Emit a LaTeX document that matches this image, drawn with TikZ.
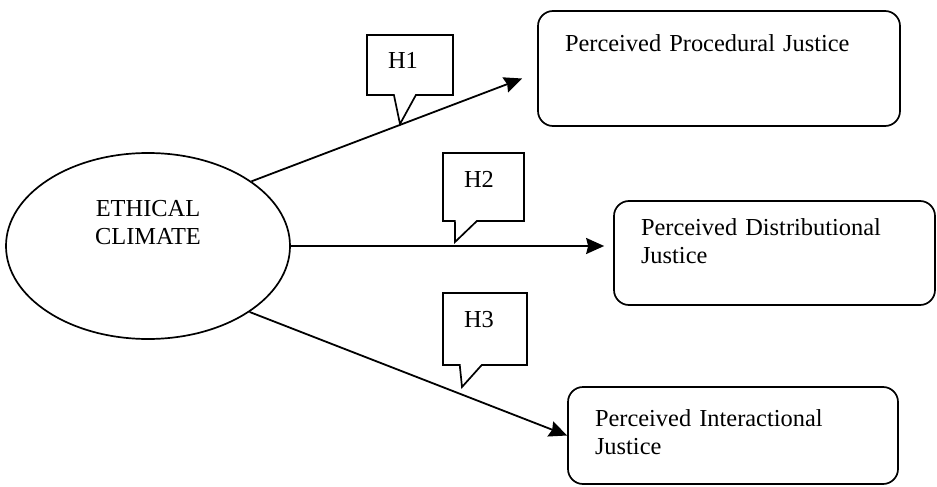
\documentclass[tikz,border=0pt]{standalone}
\usepackage{fontspec}
\setmainfont{Liberation Serif}
\usetikzlibrary{arrows.meta,calc,shapes.geometric,shapes.callouts}
\tikzstyle{climate}=[
  draw=black,
  ellipse,
  font={\fontsize{24.4}{28.5}\selectfont},
  inner sep=0pt,
  line width=1.7pt,
  minimum width=284pt,
  minimum height=186pt,
  align=center,
  text width=150pt,
  text height=20pt,
  text depth=80pt,
]
\tikzstyle{justice}=[
  draw=black,
  font={\fontsize{24.4}{28.5}\selectfont},
  inner xsep=27pt,
  inner ysep=0pt,
  line width=1.7pt,
  rectangle,
  rounded corners=15pt,
  align=left,
]
\tikzstyle{hypo}=[
  draw=black,
  font={\fontsize{24.4}{28.5}\selectfont},
  inner xsep=21pt,
  inner ysep=0pt,
  line width=1.7pt,
  rectangle callout,
  callout pointer width=22pt,
  align=left,
  text height=34pt,
]
\tikzstyle{arrow}=[
  draw=black,
  line width=1.8pt,
]
\tikzset{
  >={Stealth[length=18pt,width=16pt,inset=2pt]},
}

\begin{document}
\begin{tikzpicture}[x=1pt,y=-1pt]
    \useasboundingbox (0,0) rectangle (937,487);
    \node (ec) [climate] at (148,246) {ETHICAL\\CLIMATE};
    \node (ppj) [justice, minimum width=362pt, minimum height=115pt, text width=308pt, text height=41pt, text depth=74pt] at (719,68.5) {Perceived Procedural Justice};
    \node (pdj) [justice, minimum width=321pt, minimum height=104pt, text width=267pt, text height=34pt, text depth=70pt] at (774.5,253) {Perceived Distributional\\Justice};
    \node (pij) [justice, minimum width=330pt, minimum height=97pt, text width=276pt, text height=39pt, text depth=58pt] at (733,435.5) {Perceived Interactional\\Justice};
    \draw [->, arrow] (ec.32.5) -- ([xshift=-15pt,yshift=-10pt]ppj.west);
    \draw [->, arrow] (ec.east) -- ($(ec.east -| pdj.west)+(-9,0)$);
    \draw [->, arrow] (ec.-33) -- (pij.west);
    % callout tips
    \coordinate (h1tip) at (400,124);
    \coordinate (h2tip) at (455,242);
    \coordinate (h3tip) at (462,387);
    \node (h1) [hypo, minimum width=86pt, minimum height=60pt, text width=44pt, text depth=26pt, callout absolute pointer={(h1tip)}] at (410,65) {H1};
    \node (h2) [hypo, minimum width=81pt, minimum height=68pt, text width=39pt, text depth=34pt, callout absolute pointer={(h2tip)}] at (483.5,187) {H2};
    \node (h3) [hypo, minimum width=84pt, minimum height=72pt, text width=42pt, text depth=38pt, callout absolute pointer={(h3tip)}] at (485,329) {H3};
\end{tikzpicture}
\end{document}
